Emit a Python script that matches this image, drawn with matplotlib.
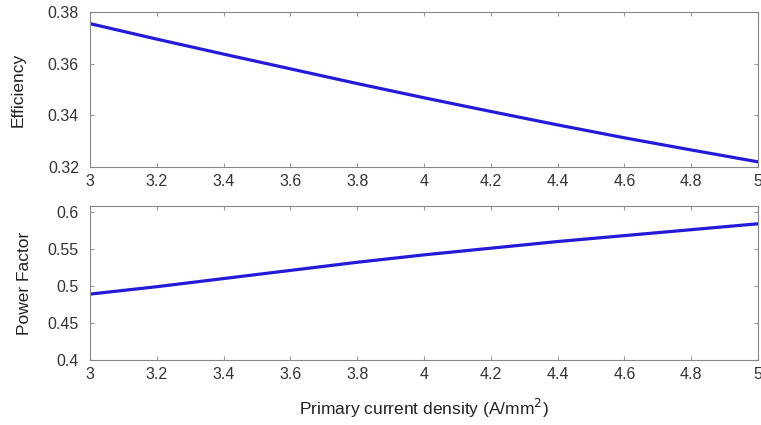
import numpy as np
import matplotlib.pyplot as plt

# current density (A/mm^2)
current_density = [3.0, 3.2, 3.4, 3.6, 3.8, 4.0, 4.2, 4.4, 4.6, 4.8, 5.0]
efficiency = [0.3755, 0.3695, 0.3637, 0.3580, 0.3523, 0.3468, 0.3415, 0.3363, 0.3313, 0.3266, 0.3220]
power_factor = [0.489, 0.499, 0.510, 0.521, 0.532, 0.542, 0.551, 0.560, 0.568, 0.576, 0.584]

plt.rcParams['font.family'] = ['Liberation Sans', 'DejaVu Sans']
plt.rcParams['font.size'] = 11

fig = plt.figure(figsize=(7.61, 4.25), dpi=100)
W, H = 761, 425
ax1 = fig.add_axes([90 / W, 1 - 167 / H, 668 / W, 155 / H])
ax2 = fig.add_axes([90 / W, 1 - 360 / H, 668 / W, 154 / H])

line_col = (0.15, 0.1, 0.85)
ax1.plot(current_density, efficiency, color=line_col, lw=2.3)
ax2.plot(current_density, power_factor, color=line_col, lw=2.3)

ax1.set_ylim(0.32, 0.38)
ax1.set_yticks([0.32, 0.34, 0.36, 0.38])
ax1.set_yticklabels(['0.32', '0.34', '0.36', '0.38'])
ax2.set_ylim(0.4, 0.608)
ax2.set_yticks([0.4, 0.45, 0.5, 0.55, 0.6])
ax2.set_yticklabels(['0.4', '0.45', '0.5', '0.55', '0.6'])

xt = [3, 3.2, 3.4, 3.6, 3.8, 4, 4.2, 4.4, 4.6, 4.8, 5]
xl = ['3', '3.2', '3.4', '3.6', '3.8', '4', '4.2', '4.4', '4.6', '4.8', '5']
for ax in (ax1, ax2):
    ax.set_xlim(3, 5)
    ax.set_xticks(xt)
    ax.set_xticklabels(xl)
    ax.tick_params(direction='in', length=3, color='#999999', labelcolor='#333333',
                   top=True, right=True, labelsize=11.5)
    ax.tick_params(axis='y', pad=8)
    ax.tick_params(axis='x', pad=5)
    for s in ax.spines.values():
        s.set_color('#888888')
        s.set_linewidth(0.8)

ax1.set_ylabel('Efficiency', fontsize=12.5, color='#222222', labelpad=16)
ax2.set_ylabel('Power Factor', fontsize=12.5, color='#222222', labelpad=11)
ax2.set_xlabel('Primary current density (A/mm$^2$)', fontsize=12.5, color='#222222', labelpad=11)

fig.savefig('out.png', dpi=100)
